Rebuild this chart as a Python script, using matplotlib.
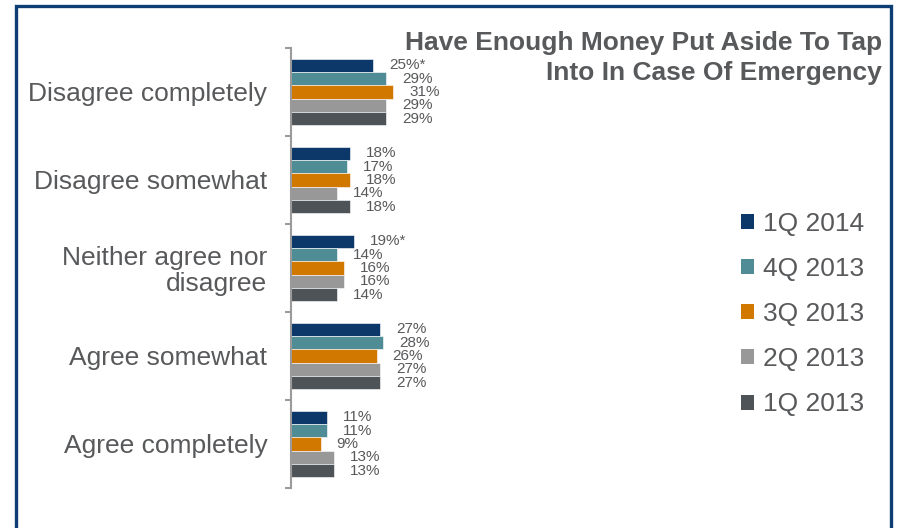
import numpy as np
import matplotlib.pyplot as plt
from matplotlib.patches import Patch, Rectangle

plt.rcParams['font.family'] = ['Liberation Sans', 'DejaVu Sans']

categories = ['Disagree completely', 'Disagree somewhat', 'Neither agree nor\ndisagree',
              'Agree somewhat', 'Agree completely']
series = ['1Q 2014', '4Q 2013', '3Q 2013', '2Q 2013', '1Q 2013']
q1_2014 = [25, 18, 19, 27, 11]
q4_2013 = [29, 17, 14, 28, 11]
q3_2013 = [31, 18, 16, 26, 9]
q2_2013 = [29, 14, 16, 27, 13]
q1_2013 = [29, 18, 14, 27, 13]
# significance markers on the latest quarter
q1_2014_marks = ['*', '', '*', '', '']

colors = ['#0b3868', '#4f8c95', '#d07800', '#989898', '#4e5358']
text_col = '#58595b'

W, H = 897, 528
fig = plt.figure(figsize=(W / 100, H / 100), dpi=100)

# dark blue frame, open at the bottom edge
fig.patches.append(Rectangle((16 / W, -0.05), 875 / W, 1.05 - 6 / H,
                             transform=fig.transFigure, fill=False,
                             edgecolor='#0d3d73', lw=2.4))

ax = fig.add_axes([291 / W, 1 - 488 / H, 329 / W, 440 / H])
ax.set_xlim(0, 100)
ax.set_ylim(4.5, -0.5)

values = [q1_2014, q4_2013, q3_2013, q2_2013, q1_2013]
y = np.arange(len(categories))
bh = 0.152
for i, (vals, c) in enumerate(zip(values, colors)):
    pos = y - 2 * bh + i * bh
    ax.barh(pos, vals, height=bh, color=c, edgecolor='white', linewidth=0.4)
    for j, (p, v) in enumerate(zip(pos, vals)):
        lab = f'{v}%'
        if i == 0:
            lab += q1_2014_marks[j]
        ax.annotate(lab, (v, p), xytext=(11.5, 0), textcoords='offset points',
                    ha='left', va='center', fontsize=11, color=text_col)

for s in ['top', 'right', 'bottom']:
    ax.spines[s].set_visible(False)
ax.spines['left'].set_color('#9a9a9a')
ax.spines['left'].set_linewidth(1.5)
ax.set_xticks([])
ax.set_yticks(y)
ax.set_yticklabels(categories, fontsize=19, color=text_col, ha='right',
                   multialignment='right', linespacing=1.1)
ax.tick_params(axis='y', which='major', length=0, pad=17)
# boundary ticks between the groups
ax.set_yticks(np.arange(-0.5, 5, 1), minor=True)
ax.tick_params(axis='y', which='minor', length=4, width=1.5, color='#9a9a9a')

fig.text(882 / W, 1 - 31 / H, 'Have Enough Money Put Aside To Tap\nInto In Case Of Emergency',
         ha='right', va='top', fontsize=19, fontweight='bold', color=text_col,
         linespacing=1.3, multialignment='right')

handles = [Patch(facecolor=c, edgecolor='none') for c in colors]
fig.legend(handles, series, loc='upper left', bbox_to_anchor=(741 / W, 1 - 212 / H),
           frameon=False, fontsize=19, labelcolor=text_col,
           handlelength=0.5, handleheight=0.5, handletextpad=0.35,
           labelspacing=0.8, borderpad=0, borderaxespad=0)

fig.savefig('out.png', dpi=100)
